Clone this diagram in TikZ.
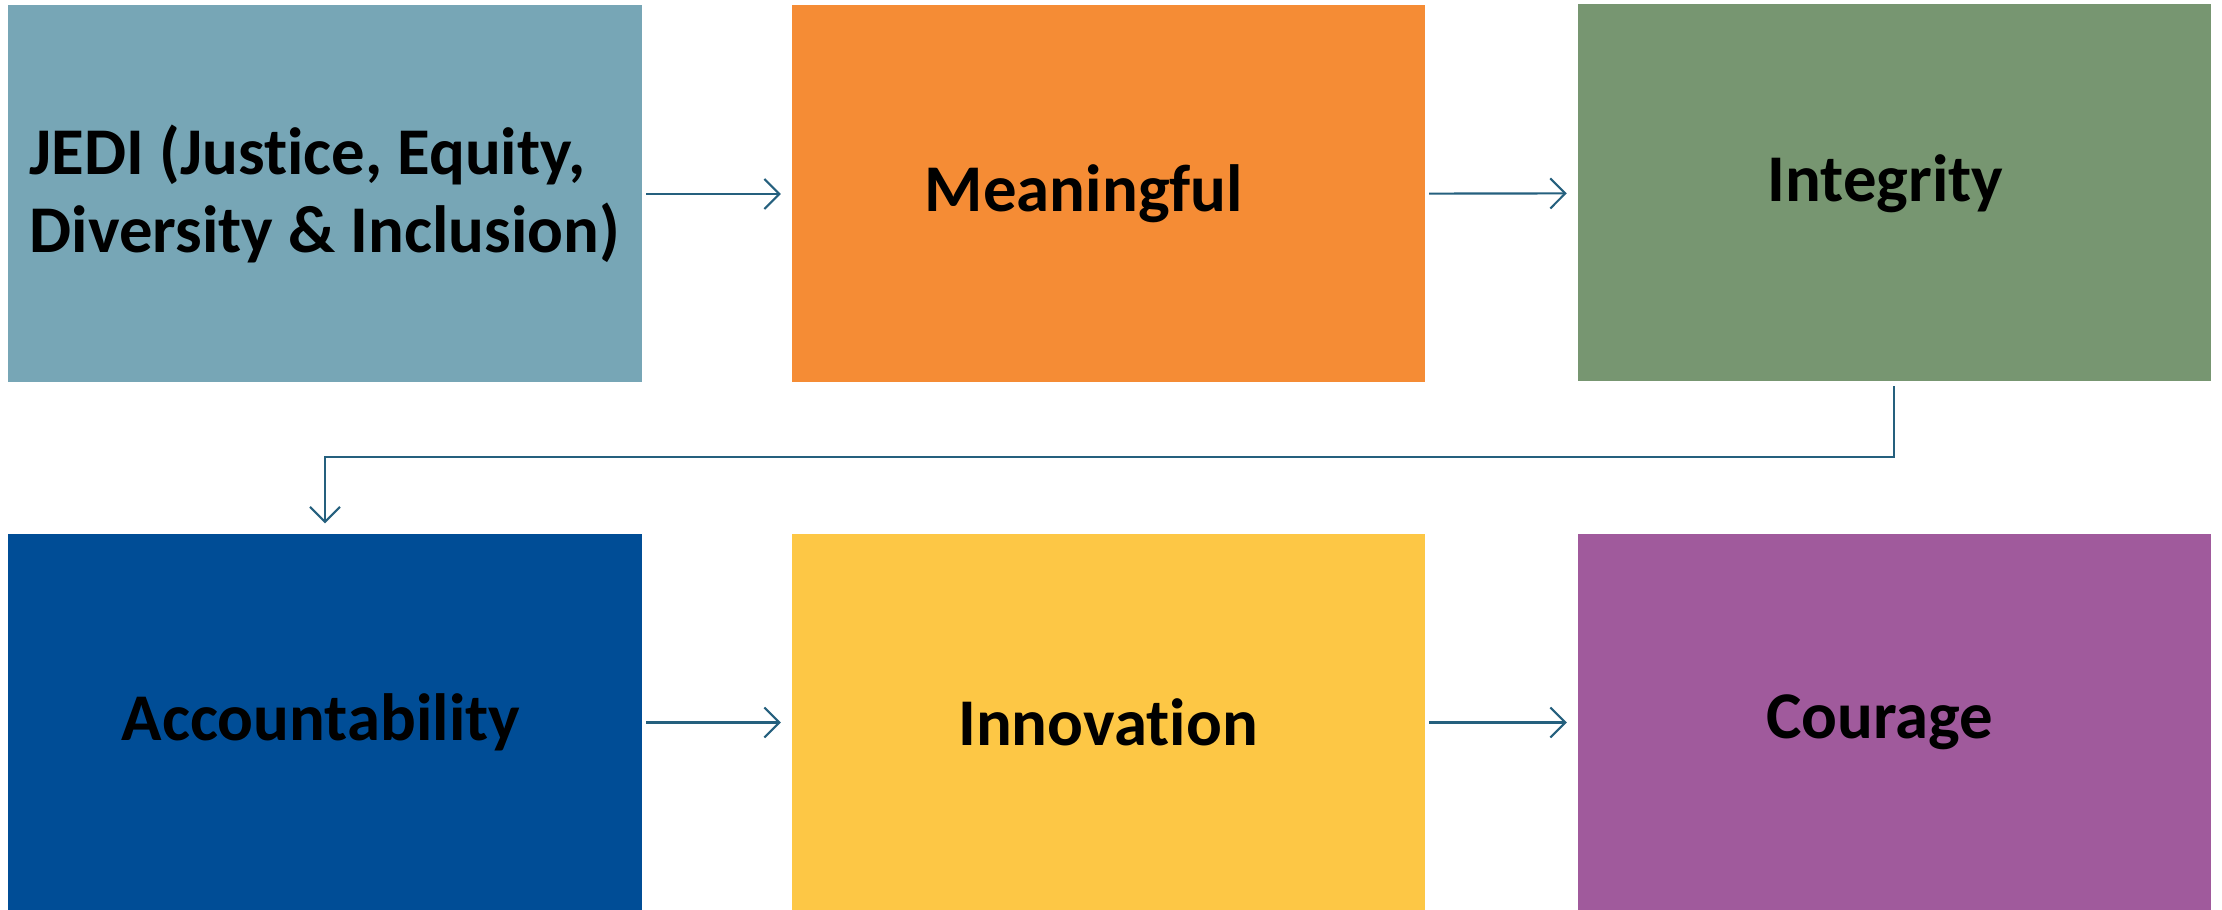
\documentclass[tikz,border=0pt]{standalone}
\usepackage{fontspec}
\setmainfont{Carlito}[Ligatures=NoCommon]
\usetikzlibrary{arrows.meta}
\definecolor{jedi}{HTML}{77A6B6}
\definecolor{mean}{HTML}{F58C35}
\definecolor{integ}{HTML}{779671}
\definecolor{account}{HTML}{004D96}
\definecolor{innov}{HTML}{FDC745}
\definecolor{cour}{HTML}{A05A9C}
\definecolor{flow}{HTML}{25607E}

\begin{document}
\begin{tikzpicture}[->, >={Straight Barb[length=1.5mm,width=3mm]}, main/.style={rectangle, inner sep=0pt, minimum width=6.33cm, minimum height=3.77cm, font=\fontsize{19}{22.2}\selectfont\bfseries}, link/.style={color=flow, line width=0.6pt, shorten <=0.04cm, shorten >=0.1cm}]
        \useasboundingbox (0,0) rectangle (22.22,9.09);

        \node[main, fill=jedi, align=left] (01) at (3.25,7.15) {JEDI (Justice, Equity,\\Diversity \& Inclusion)};
        \node[main, fill=mean] (11) at (11.08,7.15) {\hspace*{-0.48cm}Meaningful};
        \node[main, fill=integ] (21) at (18.94,7.16) {\raisebox{-0.085cm}[0pt][0pt]{\hspace*{-0.17cm}Integrity}};
        \node[main, fill=account] (00) at (3.25,1.865) {\hspace*{-0.08cm}Accountability};
        \node[main, fill=innov] (10) at (11.08,1.865) {Innovation};
        \node[main, fill=cour] (20) at (18.94,1.865) {\hspace*{-0.28cm}Courage};

        \path[link]
            (01) edge (11)
            (11) edge (21)
            (00) edge (10)
            (10) edge (20)
            ;
        \draw[link] (21.south) -- ++(0,-0.75) -| (00.north);
\end{tikzpicture}
\end{document}
